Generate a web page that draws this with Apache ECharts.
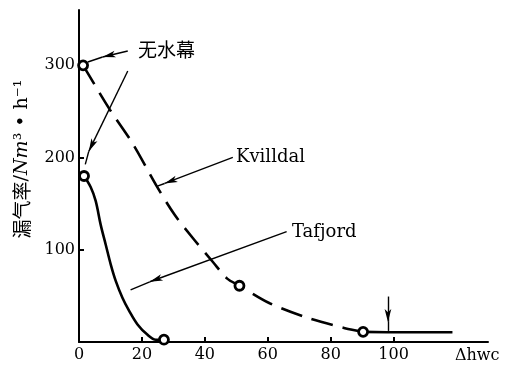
<!DOCTYPE html>
<html>
<head>
<meta charset="utf-8">
<script src="https://cdn.jsdelivr.net/npm/echarts@6/dist/echarts.min.js"></script>
<style>
  html, body { margin: 0; padding: 0; background: #fff; }
  #chart { width: 514px; height: 366px; }
</style>
</head>
<body>
<div id="chart"></div>
<script>
// Leak rate vs. water-curtain head difference
const xTickLabels = [0, 20, 40, 60, 80, 100];
const xTicks = [20, 40, 60, 80, 100];
const yTicks = [100, 200, 300];

// Kvilldal (dashed), then the flat solid tail
const kvilldalDashed = [[1.3, 300], [9.8, 252], [17.1, 215], [24.7, 169], [30.4, 138], [36.1, 113],
  [42.5, 87], [47, 69], [51, 61], [60.6, 42], [72.8, 26], [84.5, 15], [90.3, 11]];
const kvilldalTail = [[90.3, 11], [98, 10.5], [118.7, 10.5]];
const kvilldalMarks = [[1.3, 300], [51, 61], [90.3, 11]];

// Tafjord (solid)
const tafjord = [[1.6, 180], [3.7, 168], [5.3, 153], [6.9, 127], [8.5, 105.5], [10.1, 84],
  [11.7, 66], [13.8, 48], [15.9, 34], [18.6, 19], [21.7, 8], [24.4, 2.5], [27, 2.5]];
const tafjordMarks = [[1.6, 180], [27, 2.5]];

// Leader lines: [start, arrow tip, end]
const leaderDry1 = [[15.5, 315.6], [7.5, 309], [2.8, 303.6]];
const leaderDry2 = [[15.5, 293.8], [3.1, 206.7], [2, 192.6]];
const leaderKvilldal = [[48.9, 200.2], [27.2, 171.9], [24.7, 168.7]];
const leaderTafjord = [[66, 119.7], [22.5, 65.3], [16.4, 56.6]];
const arrowDown = [[98.2, 49.3], [98.2, 21.8], [98.2, 12]];
const leaders = [leaderDry1, leaderDry2, leaderKvilldal, leaderTafjord, arrowDown];

const serif = 'DejaVu Serif';
const cjk = 'Noto Sans CJK SC';

const markLineData = [];
leaders.forEach(function (l) {
  markLineData.push([{ coord: l[0], symbol: 'none' }, { coord: l[1], symbol: 'arrow', symbolSize: [5, 13] }]);
  markLineData.push([{ coord: l[1], symbol: 'none' }, { coord: l[2], symbol: 'none' }]);
});

const chart = echarts.init(document.getElementById('chart'), null, { renderer: 'canvas' });
chart.setOption({
  animation: false,
  backgroundColor: '#fff',
  grid: { left: 79, right: 26, top: 10, bottom: 24 },
  xAxis: {
    type: 'value', min: 0, max: 130,
    axisLine: { lineStyle: { color: '#000', width: 2 } },
    axisTick: { inside: true, length: 5, customValues: xTicks, lineStyle: { color: '#000', width: 2 } },
    axisLabel: { customValues: xTickLabels, margin: 5, color: '#000', fontFamily: serif, fontSize: 16 },
    splitLine: { show: false }
  },
  yAxis: {
    type: 'value', min: 0, max: 360,
    axisLine: { show: true, lineStyle: { color: '#000', width: 2 } },
    axisTick: { show: true, inside: true, length: 5, customValues: yTicks, lineStyle: { color: '#000', width: 2 } },
    axisLabel: { customValues: yTicks, margin: 4, color: '#000', fontFamily: serif, fontSize: 16 },
    splitLine: { show: false }
  },
  series: [
    {
      name: 'Kvilldal', type: 'line', data: kvilldalDashed, smooth: 0.3, symbol: 'none',
      lineStyle: { color: '#000', width: 2.6, type: [22, 10] }
    },
    {
      name: 'Kvilldal tail', type: 'line', data: kvilldalTail, symbol: 'none',
      lineStyle: { color: '#000', width: 2.6 }
    },
    {
      name: 'Tafjord', type: 'line', data: tafjord, smooth: 0.35, symbol: 'none',
      lineStyle: { color: '#000', width: 2.6 }
    },
    {
      name: 'leaders', type: 'line', data: [],
      markLine: {
        silent: true, animation: false, label: { show: false },
        lineStyle: { color: '#000', width: 1.4, type: 'solid' },
        data: markLineData
      }
    },
    {
      name: 'points', type: 'scatter', z: 5,
      data: kvilldalMarks.concat(tafjordMarks),
      symbol: 'circle', symbolSize: 9,
      itemStyle: { color: '#fff', borderColor: '#000', borderWidth: 2.8, opacity: 1 },
      emphasis: { disabled: true }
    }
  ],
  graphic: [
    {
      type: 'text', x: 22, y: 159, rotation: Math.PI / 2,
      style: {
        text: '{c|漏气率}{t|/}{i|Nm}{t|³ • h⁻¹}',
        align: 'center', verticalAlign: 'middle',
        rich: {
          c: { fontFamily: cjk, fontSize: 19, fill: '#000' },
          t: { fontFamily: serif, fontSize: 19, fill: '#000' },
          i: { fontFamily: serif, fontSize: 19, fontStyle: 'italic', fill: '#000' }
        }
      }
    },
    { type: 'text', x: 138, y: 50, style: { text: '无水幕', fontFamily: cjk, fontSize: 19, fill: '#000', verticalAlign: 'middle' } },
    { type: 'text', x: 236, y: 157, style: { text: 'Kvilldal', fontFamily: serif, fontSize: 18, fill: '#000', verticalAlign: 'middle' } },
    { type: 'text', x: 292, y: 232, style: { text: 'Tafjord', fontFamily: serif, fontSize: 18, fill: '#000', verticalAlign: 'middle' } },
    { type: 'text', x: 455, y: 356, style: { text: 'Δhwc', fontFamily: serif, fontSize: 16, fill: '#000', verticalAlign: 'middle' } }
  ]
});
</script>
</body>
</html>
